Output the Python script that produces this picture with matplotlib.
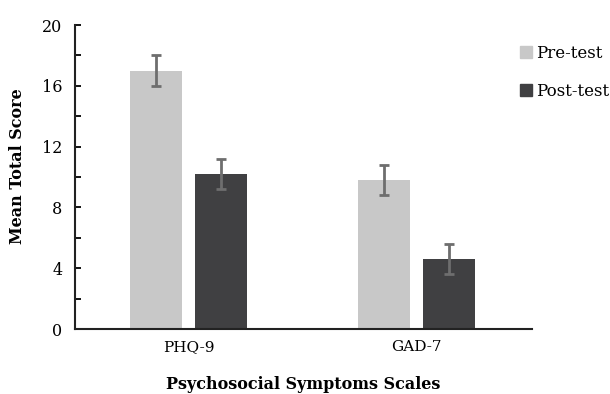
import numpy as np
import matplotlib
matplotlib.use("Agg")
from matplotlib import pyplot as plt
from matplotlib.patches import Patch
from matplotlib.ticker import MultipleLocator

categories = ["PHQ-9", "GAD-7"]
pre_test = [17.0, 9.8]
post_test = [10.2, 4.6]
pre_err = [1.0, 1.0]
post_err = [1.0, 1.0]

plt.rcParams['font.family'] = ['DejaVu Serif']

def main():
    fig = plt.figure(figsize=(6.1, 3.94), dpi=100)
    ax = fig.add_axes([75 / 610, 65 / 394, (532 - 75) / 610, (329 - 25) / 394])

    x = np.arange(len(categories))
    w = 0.228
    off = 0.1425
    errStyle = dict(ecolor="#6e6e6e", elinewidth=2, capsize=3.6, capthick=2)

    ax.bar(x - off, pre_test, w, color="#c8c8c8", yerr=pre_err, error_kw=errStyle, label="Pre-test")
    ax.bar(x + off, post_test, w, color="#404042", yerr=post_err, error_kw=errStyle, label="Post-test")

    ax.set_xlim(-0.498, 1.507)
    ax.set_ylim(0, 20)
    ax.set_xticks(x)
    ax.set_xticklabels(categories, fontsize=11)
    ax.tick_params(axis="x", length=0, pad=8)

    ax.yaxis.set_major_locator(MultipleLocator(4))
    ax.yaxis.set_minor_locator(MultipleLocator(2))
    ax.tick_params(axis="y", which="both", direction="in", length=4, width=1.3, labelsize=11.5, pad=9)

    for s in ["top", "right"]:
        ax.spines[s].set_visible(False)
    for s in ["left", "bottom"]:
        ax.spines[s].set_linewidth(1.5)
        ax.spines[s].set_color("#222222")

    ax.set_ylabel("Mean Total Score", fontsize=11.5, fontweight="bold")
    ax.yaxis.set_label_coords(-0.107, 0.535)
    ax.set_xlabel("Psychosocial Symptoms Scales", fontsize=11.5, fontweight="bold", labelpad=16)

    handles = [Patch(color="#c8c8c8"), Patch(color="#404042")]
    fig.legend(handles, ["Pre-test", "Post-test"], loc="upper left",
               bbox_to_anchor=(505 / 610, 1 - 30 / 394), frameon=False,
               fontsize=12, handlelength=0.72, handleheight=0.72,
               handletextpad=0.22, labelspacing=1.25)

    fig.savefig("out.png", dpi=100)

if __name__ == "__main__":
    main()
